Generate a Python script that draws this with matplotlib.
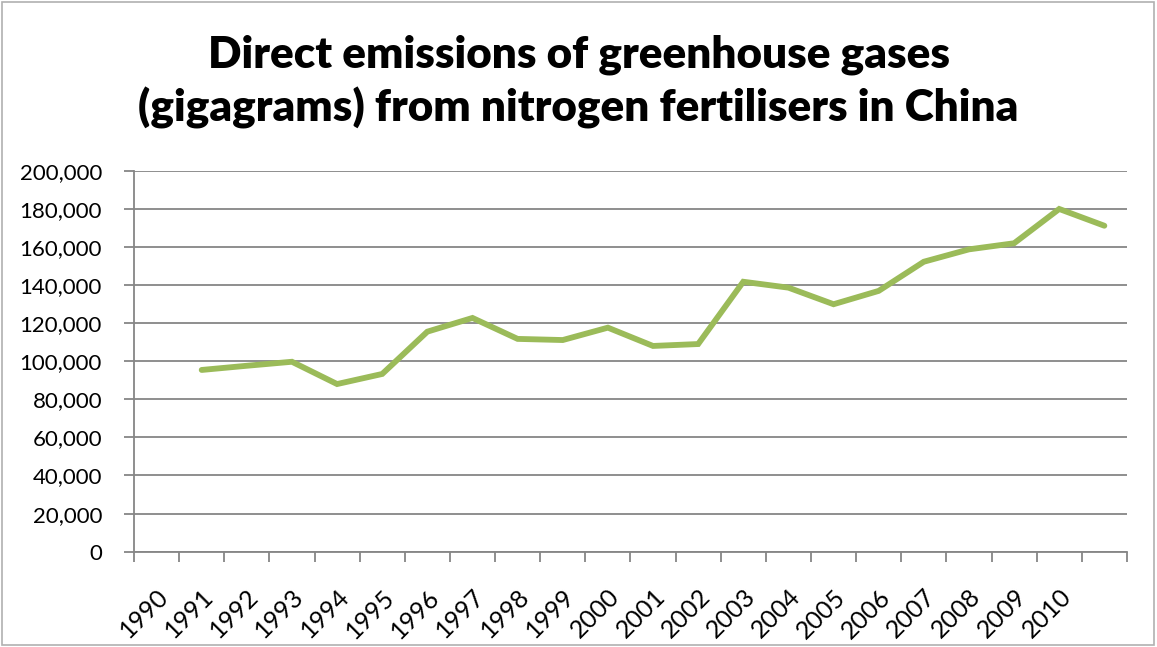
import matplotlib
matplotlib.use('Agg')
import matplotlib.pyplot as plt
from matplotlib.patches import Rectangle
from matplotlib.ticker import FuncFormatter, MultipleLocator
import numpy as np

# category labels along the x axis (22 slots, last one has no label)
years = ['1990', '1991', '1992', '1993', '1994', '1995', '1996', '1997', '1998', '1999',
         '2000', '2001', '2002', '2003', '2004', '2005', '2006', '2007', '2008', '2009',
         '2010', '']
# emissions (gigagrams), plotted from the second slot onward as in the original
emissions = [95400, 97600, 99700, 88000, 93300, 115500, 122700, 111700, 111100, 117600,
             108000, 109000, 141700, 138600, 129900, 136900, 152200, 158700, 161900, 179900,
             171100]

title = 'Direct emissions of greenhouse gases\n(gigagrams) from nitrogen fertilisers in China'

plt.rcParams['font.family'] = ['Lato', 'DejaVu Sans']
grey = '#868686'

fig = plt.figure(figsize=(11.57, 6.47), dpi=100)
ax = fig.add_axes([0.1158, 0.1473, 0.974 - 0.1158, 0.7362 - 0.1473])

n = len(years)
x = np.arange(1, 1 + len(emissions)) + 0.5
ax.plot(x, emissions, color='#9BBB59', lw=4.2, solid_joinstyle='miter', solid_capstyle='round')

ax.set_xlim(0, n)
ax.set_ylim(0, 200000)
ax.yaxis.set_major_locator(MultipleLocator(20000))
ax.yaxis.set_major_formatter(FuncFormatter(lambda v, p: '{:,.0f}'.format(v)))
ax.grid(axis='y', color=grey, lw=1.3)
ax.set_axisbelow(True)

# category boundaries as ticks, labels at the centres
ax.set_xticks(np.arange(n + 1))
ax.set_xticklabels([])
ax.set_xticks(np.arange(n) + 0.5, minor=True)
ax.set_xticklabels(years, minor=True, rotation=45, ha='right', va='top',
                   rotation_mode='anchor', fontsize=18)
ax.tick_params(axis='x', which='major', length=7, width=1.3, color=grey)
ax.tick_params(axis='x', which='minor', length=0, pad=24)
ax.tick_params(axis='y', length=7, width=1.3, color=grey, labelsize=16, pad=16)

for s in ['top', 'right']:
    ax.spines[s].set_visible(False)
for s in ['left', 'bottom']:
    ax.spines[s].set_color(grey)
    ax.spines[s].set_linewidth(1.3)

fig.text(0.500, 0.874, title, ha='center', va='center', fontsize=31.7, fontweight='heavy',
         linespacing=1.35)

fig.patches.append(Rectangle((0.002, 0.003), 0.995, 0.994, transform=fig.transFigure,
                             fill=False, edgecolor='#B0B0B0', lw=1.2))

fig.savefig('out.png', dpi=100)
